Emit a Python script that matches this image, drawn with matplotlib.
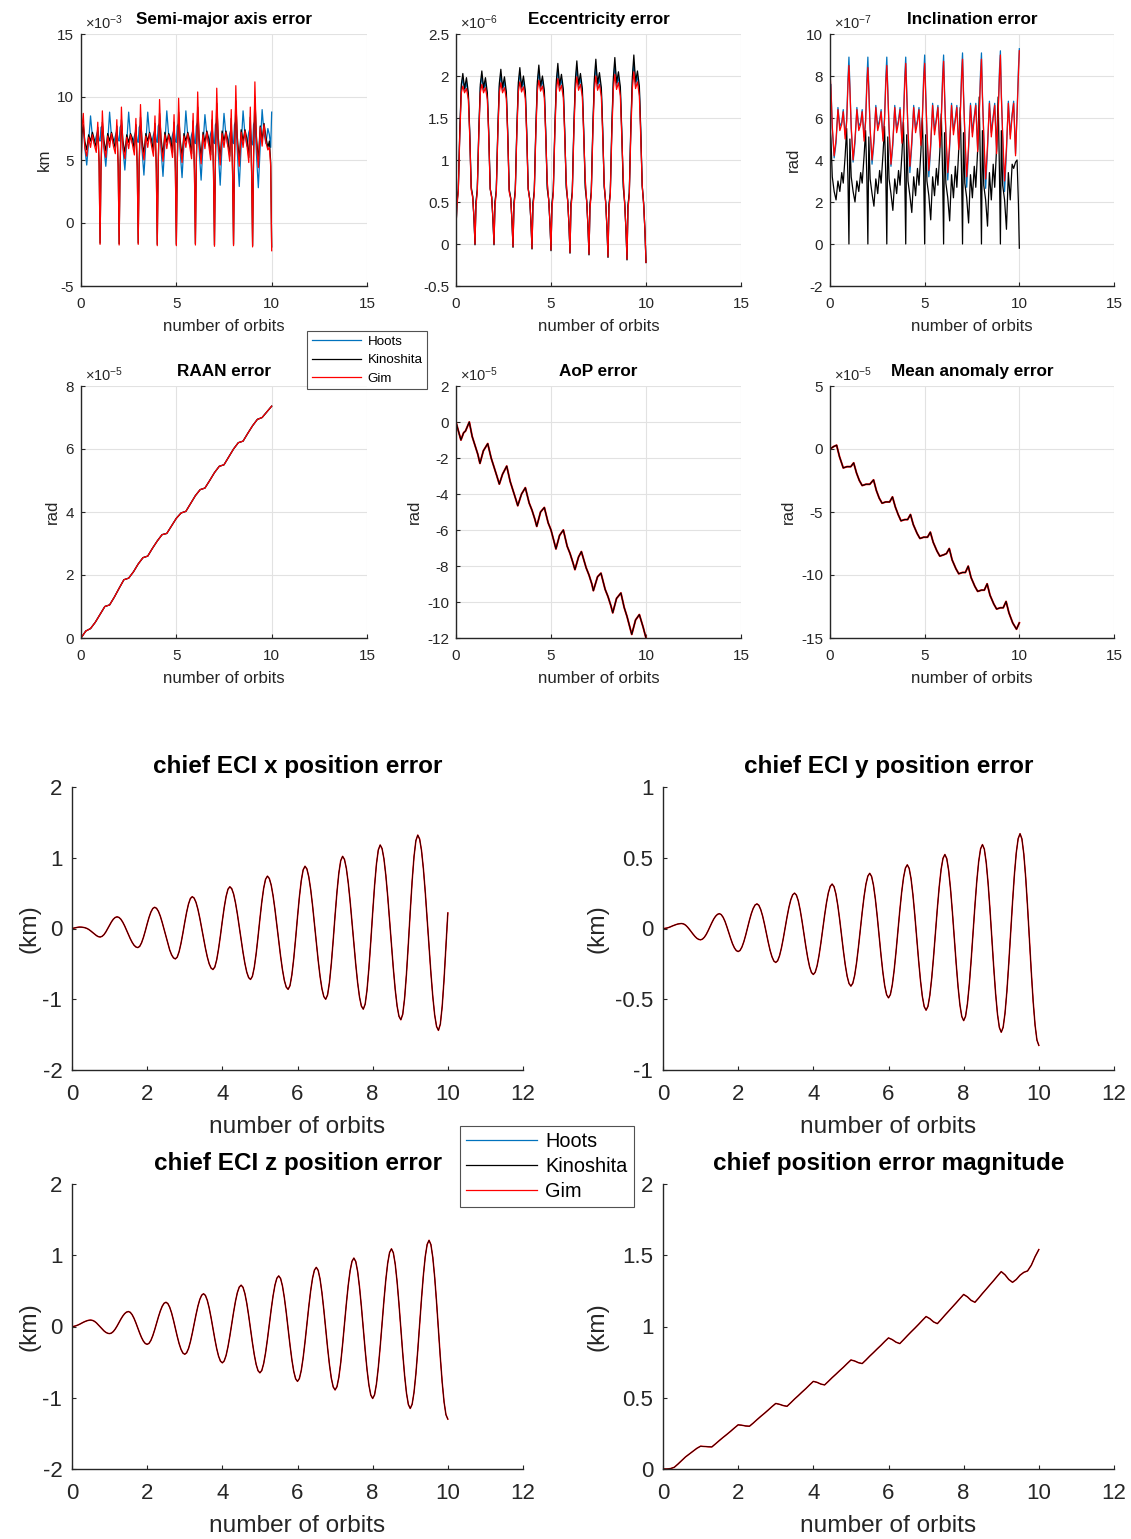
import numpy as np
import matplotlib
matplotlib.use('Agg')
import matplotlib.pyplot as plt
from matplotlib.ticker import FuncFormatter

plt.rcParams['font.family'] = ['Liberation Sans', 'DejaVu Sans']
plt.rcParams['mathtext.fontset'] = 'custom'
plt.rcParams['mathtext.rm'] = 'Liberation Sans'
plt.rcParams['mathtext.default'] = 'regular'

METHODS = ['Hoots', 'Kinoshita', 'Gim']
COLORS = {'Hoots': '#0072BD', 'Kinoshita': '#000000', 'Gim': '#ff0000'}

# ---------------- orbital element errors (top figure) ----------------
# sample offsets within each orbit (number of orbits)
SMA_OFFSETS = [0.0, 0.05, 0.12, 0.2, 0.3, 0.4, 0.5, 0.6, 0.7, 0.8, 0.88, 0.95]
ECC_OFFSETS = [0.0, 0.05, 0.12, 0.2, 0.28, 0.36, 0.45, 0.55, 0.65, 0.72, 0.8, 0.88, 0.95]
INC_OFFSETS = [0.0, 0.05, 0.12, 0.22, 0.32, 0.42, 0.52, 0.62, 0.7, 0.8, 0.88, 0.95]

# semi-major axis error, x1e-3 km
sma_hoots = [
    6.0, 7.6, 7.6, 6.0, 4.6, 6.4, 8.5, 6.8, 6.3, 6.9, 7.3, 6.6,
    6.5, 7.6, 7.7, 6.0, 4.5, 6.4, 8.8, 6.8, 6.3, 6.9, 7.3, 6.6,
    6.5, 7.6, 7.8, 5.9, 4.2, 6.4, 8.8, 6.8, 6.3, 6.9, 7.3, 6.5,
    6.4, 7.6, 7.8, 5.8, 3.8, 6.3, 8.8, 6.9, 6.3, 7.0, 7.4, 6.5,
    6.4, 7.7, 7.9, 5.8, 3.7, 6.3, 8.9, 6.9, 6.2, 7.0, 7.4, 6.5,
    6.4, 7.7, 7.9, 5.7, 3.6, 6.3, 8.9, 6.9, 6.2, 7.0, 7.4, 6.4,
    6.3, 7.7, 8.0, 5.7, 3.4, 6.2, 8.6, 7.0, 6.2, 7.1, 7.5, 6.4,
    6.3, 7.8, 8.0, 5.6, 3.0, 6.2, 8.7, 7.0, 6.1, 7.1, 7.5, 6.4,
    6.3, 7.8, 8.1, 5.6, 2.9, 6.1, 8.9, 7.0, 6.1, 7.2, 7.6, 6.3,
    6.2, 7.8, 8.1, 5.5, 2.8, 6.1, 9.0, 7.1, 6.3, 7.5, 7.0, 6.0,
    8.8]
sma_kinoshita = [
    4.5, 7.0, 7.8, 6.5, 5.8, 7.0, 6.5, 7.2, 6.6, 6.0, 7.6, 4.8,
    -1.6, 4.5, 8.0, 6.6, 5.7, 7.1, 6.5, 7.2, 6.6, 5.9, 7.7, 4.6,
    -1.65, 4.6, 8.2, 6.5, 5.6, 7.0, 6.4, 7.1, 6.7, 5.8, 7.8, 4.5,
    -1.6, 4.7, 8.4, 6.6, 5.5, 7.1, 6.5, 7.2, 6.6, 5.7, 7.9, 4.4,
    -1.7, 4.8, 8.7, 6.7, 5.4, 7.2, 6.4, 7.1, 6.7, 5.6, 8.0, 4.3,
    -1.7, 4.9, 8.8, 6.6, 5.3, 7.1, 6.5, 7.2, 6.6, 5.5, 8.1, 4.2,
    -1.65, 5.0, 9.2, 6.7, 5.2, 7.2, 6.4, 7.3, 6.7, 5.4, 8.2, 4.1,
    -1.75, 5.1, 9.5, 6.8, 5.1, 7.3, 6.5, 7.3, 6.6, 5.3, 8.3, 4.1,
    -1.7, 5.2, 9.7, 6.8, 5.0, 7.4, 6.5, 7.4, 6.7, 5.2, 8.4, 4.0,
    -1.8, 5.3, 10.0, 6.9, 4.9, 7.7, 6.6, 7.9, 6.8, 6.0, 6.5, 4.8,
    -1.9]
sma_gim = [
    3.8, 7.5, 8.7, 6.0, 5.3, 6.8, 6.0, 7.0, 6.2, 5.6, 8.0, 4.5,
    -1.7, 4.2, 8.9, 6.1, 5.2, 6.9, 6.0, 7.1, 6.1, 5.5, 8.2, 4.3,
    -1.75, 4.3, 9.2, 6.0, 5.1, 6.8, 5.9, 7.0, 6.2, 5.4, 8.3, 4.2,
    -1.7, 4.4, 9.4, 6.1, 5.0, 6.9, 6.0, 7.1, 6.1, 5.3, 8.5, 4.0,
    -1.8, 4.5, 9.8, 6.2, 4.9, 7.0, 5.9, 7.0, 6.2, 5.2, 8.6, 4.0,
    -1.8, 4.6, 9.9, 6.1, 4.8, 6.9, 6.0, 7.1, 6.1, 5.1, 8.7, 3.9,
    -1.75, 4.7, 10.4, 6.2, 4.7, 7.0, 5.9, 7.2, 6.2, 5.0, 8.9, 3.8,
    -1.85, 4.8, 10.7, 6.3, 4.6, 7.1, 6.0, 7.2, 6.1, 4.9, 9.0, 3.8,
    -1.8, 4.9, 10.9, 6.3, 4.5, 7.2, 6.0, 7.3, 6.2, 4.8, 9.2, 3.7,
    -1.9, 5.0, 11.2, 6.4, 4.4, 7.6, 6.1, 7.8, 6.4, 5.8, 6.0, 4.5,
    -2.2]

# eccentricity error, x1e-6
ecc_hoots = [
    0.19, 0.48, 0.64, 1.33, 1.86, 1.98, 1.82, 1.92, 1.76, 1.33, 0.66, 0.56, 0.29,
    -0.0, 0.48, 0.64, 1.33, 1.86, 2.00, 1.83, 1.92, 1.76, 1.33, 0.66, 0.55, 0.27,
    -0.0, 0.48, 0.63, 1.33, 1.87, 2.02, 1.83, 1.93, 1.77, 1.33, 0.64, 0.54, 0.26,
    -0.03, 0.47, 0.63, 1.34, 1.87, 2.04, 1.84, 1.94, 1.78, 1.33, 0.66, 0.53, 0.24,
    -0.05, 0.47, 0.62, 1.34, 1.88, 2.06, 1.85, 1.95, 1.79, 1.34, 0.72, 0.52, 0.23,
    -0.07, 0.46, 0.62, 1.34, 1.89, 2.08, 1.86, 1.96, 1.79, 1.34, 0.72, 0.51, 0.21,
    -0.1, 0.46, 0.61, 1.35, 1.9, 2.10, 1.87, 1.97, 1.8, 1.34, 0.74, 0.5, 0.19,
    -0.12, 0.45, 0.61, 1.35, 1.9, 2.12, 1.87, 1.98, 1.81, 1.35, 0.7, 0.49, 0.17,
    -0.15, 0.45, 0.6, 1.36, 1.91, 2.14, 1.88, 1.99, 1.82, 1.35, 0.76, 0.48, 0.15,
    -0.18, 0.44, 0.6, 1.36, 1.92, 2.16, 1.89, 2.0, 1.83, 1.35, 0.7, 0.46, 0.13,
    -0.22]
ecc_kinoshita = [
    0.18, 0.5, 0.65, 1.35, 1.9, 2.03, 1.85, 1.98, 1.8, 1.35, 0.68, 0.57, 0.28,
    -0.01, 0.5, 0.65, 1.35, 1.9, 2.06, 1.86, 1.98, 1.8, 1.35, 0.66, 0.56, 0.26,
    -0.01, 0.5, 0.64, 1.36, 1.91, 2.08, 1.86, 1.99, 1.81, 1.35, 0.65, 0.55, 0.25,
    -0.04, 0.49, 0.64, 1.36, 1.92, 2.10, 1.87, 2.0, 1.82, 1.36, 0.66, 0.54, 0.23,
    -0.06, 0.49, 0.63, 1.37, 1.93, 2.13, 1.88, 2.0, 1.83, 1.36, 0.66, 0.53, 0.22,
    -0.08, 0.48, 0.63, 1.37, 1.94, 2.15, 1.89, 2.02, 1.84, 1.37, 0.67, 0.52, 0.2,
    -0.11, 0.48, 0.62, 1.38, 1.95, 2.18, 1.9, 2.03, 1.85, 1.37, 0.67, 0.51, 0.18,
    -0.13, 0.47, 0.62, 1.38, 1.96, 2.2, 1.91, 2.04, 1.86, 1.38, 0.68, 0.5, 0.16,
    -0.16, 0.47, 0.61, 1.39, 1.97, 2.22, 1.92, 2.05, 1.87, 1.38, 0.68, 0.49, 0.14,
    -0.19, 0.46, 0.61, 1.39, 1.98, 2.25, 1.93, 2.06, 1.88, 1.39, 0.69, 0.48, 0.12,
    -0.22]
ecc_gim = [
    0.2, 0.45, 0.62, 1.3, 1.8, 1.88, 1.8, 1.85, 1.72, 1.3, 0.65, 0.55, 0.3,
    0.0, 0.45, 0.62, 1.3, 1.8, 1.90, 1.8, 1.86, 1.72, 1.3, 0.65, 0.55, 0.28,
    0.0, 0.45, 0.61, 1.3, 1.8, 1.92, 1.8, 1.86, 1.73, 1.3, 0.62, 0.54, 0.26,
    -0.03, 0.44, 0.61, 1.3, 1.81, 1.93, 1.81, 1.87, 1.73, 1.3, 0.65, 0.53, 0.25,
    -0.05, 0.44, 0.60, 1.3, 1.82, 1.95, 1.82, 1.88, 1.74, 1.3, 0.75, 0.52, 0.24,
    -0.07, 0.43, 0.60, 1.3, 1.82, 1.97, 1.82, 1.89, 1.74, 1.3, 0.75, 0.5, 0.22,
    -0.1, 0.43, 0.59, 1.3, 1.83, 1.99, 1.83, 1.9, 1.75, 1.3, 0.78, 0.5, 0.2,
    -0.12, 0.42, 0.59, 1.3, 1.83, 2.0, 1.83, 1.9, 1.75, 1.3, 0.72, 0.48, 0.18,
    -0.15, 0.42, 0.58, 1.3, 1.84, 2.02, 1.84, 1.92, 1.76, 1.3, 0.8, 0.47, 0.16,
    -0.18, 0.41, 0.58, 1.3, 1.85, 2.05, 1.85, 1.93, 1.76, 1.3, 0.7, 0.45, 0.14,
    -0.22]

# inclination error, x1e-7 rad
inc_hoots = [
    7.6, 7.6, 5.5, 4.1, 4.8, 6.5, 5.6, 5.8, 6.4, 5.2, 5.9, 7.9,
    8.9, 7.6, 5.5, 3.9, 4.8, 6.5, 5.6, 5.8, 6.4, 5.1, 5.9, 7.9,
    8.9, 7.5, 5.4, 3.8, 4.8, 6.6, 5.6, 5.9, 6.4, 5.0, 6.0, 8.0,
    8.9, 7.5, 5.4, 3.7, 4.7, 6.6, 5.5, 5.9, 6.5, 4.9, 6.0, 8.0,
    8.9, 7.4, 5.3, 3.4, 4.7, 6.6, 5.5, 5.9, 6.5, 4.8, 6.1, 8.1,
    9.0, 7.4, 5.3, 3.2, 4.6, 6.7, 5.4, 6.0, 6.6, 4.7, 6.1, 8.1,
    9.0, 7.3, 5.2, 3.05, 4.6, 6.7, 5.4, 6.0, 6.6, 4.6, 6.2, 8.2,
    9.1, 7.3, 5.2, 2.7, 4.5, 6.7, 5.3, 6.1, 6.7, 4.5, 6.2, 8.2,
    9.1, 7.2, 5.1, 2.65, 4.5, 6.8, 5.3, 6.1, 6.7, 4.4, 6.3, 8.3,
    9.2, 7.2, 5.1, 2.5, 4.4, 6.8, 5.2, 6.2, 6.8, 4.3, 6.3, 8.3,
    9.3]
inc_kinoshita = [
    5.6, 5.0, 3.2, 2.5, 2.1, 3.0, 2.5, 3.4, 2.9, 4.2, 5.5, 3.0,
    0.0, 5.0, 3.2, 2.5, 2.0, 3.0, 2.5, 3.4, 2.9, 4.2, 5.4, 3.0,
    0.0, 5.1, 3.1, 2.4, 1.8, 3.1, 2.4, 3.5, 2.9, 4.3, 5.6, 3.1,
    0.0, 5.1, 3.1, 2.4, 1.6, 3.1, 2.4, 3.5, 2.8, 4.3, 5.8, 3.1,
    0.0, 5.2, 3.0, 2.3, 1.5, 3.2, 2.3, 3.6, 2.8, 4.4, 6.0, 3.2,
    0.0, 5.2, 3.0, 2.3, 1.15, 3.2, 2.3, 3.6, 2.8, 4.4, 6.2, 3.2,
    0.0, 5.3, 2.9, 2.2, 1.1, 3.3, 2.2, 3.7, 2.7, 4.5, 6.5, 3.3,
    0.0, 5.3, 2.9, 2.2, 1.0, 3.3, 2.2, 3.7, 2.7, 4.5, 7.0, 3.3,
    0.0, 5.4, 2.8, 2.1, 0.85, 3.4, 2.1, 3.8, 2.7, 4.6, 7.0, 3.4,
    0.0, 5.4, 2.8, 2.1, 0.7, 3.4, 2.1, 3.8, 3.6, 3.9, 4.0, 2.0,
    -0.2]
inc_gim = [
    8.2, 7.4, 5.6, 4.2, 5.0, 6.4, 5.4, 5.7, 6.3, 5.0, 5.8, 7.6,
    8.5, 7.4, 5.6, 4.0, 5.0, 6.4, 5.4, 5.7, 6.3, 4.9, 5.8, 7.6,
    8.4, 7.3, 5.5, 4.0, 5.0, 6.5, 5.4, 5.8, 6.3, 4.9, 5.9, 7.7,
    8.5, 7.3, 5.5, 3.8, 4.9, 6.5, 5.3, 5.8, 6.4, 4.8, 5.9, 7.7,
    8.6, 7.2, 5.4, 3.7, 4.9, 6.5, 5.3, 5.8, 6.4, 4.7, 6.0, 7.8,
    8.6, 7.2, 5.4, 3.5, 4.8, 6.6, 5.2, 5.9, 6.5, 4.6, 6.0, 7.8,
    8.7, 7.1, 5.3, 3.4, 4.8, 6.6, 5.2, 5.9, 6.5, 4.5, 6.1, 7.9,
    8.8, 7.1, 5.3, 3.2, 4.7, 6.6, 5.1, 6.0, 6.6, 4.4, 6.1, 7.9,
    8.8, 7.0, 5.2, 3.1, 4.7, 6.7, 5.1, 6.0, 6.6, 4.3, 6.2, 8.0,
    9.0, 7.0, 5.2, 3.0, 4.6, 6.7, 5.0, 6.1, 6.7, 4.2, 6.2, 8.0,
    9.2]

# RAAN error, x1e-5 rad, every quarter orbit (all three methods coincide)
raan_err = [0.0, 0.22, 0.3, 0.5, 0.75, 1.0, 1.05, 1.3, 1.58, 1.85, 1.9,
            2.1, 2.35, 2.55, 2.6, 2.85, 3.08, 3.28, 3.32, 3.56, 3.8,
            3.97, 4.02, 4.27, 4.52, 4.71, 4.76, 5.0, 5.25, 5.45, 5.5,
            5.75, 6.0, 6.2, 6.25, 6.5, 6.74, 6.94, 7.0, 7.18, 7.36]

# argument of perigee error, x1e-5 rad
aop_t = [0.0, 0.1, 0.26, 0.4, 0.5, 0.7, 0.85,
         1.0, 1.15, 1.26, 1.44, 1.67, 1.85,
         2.0, 2.15, 2.28, 2.45, 2.67, 2.85,
         3.0, 3.15, 3.25, 3.45, 3.65, 3.85,
         4.0, 4.15, 4.25, 4.45, 4.65, 4.85,
         5.0, 5.15, 5.26, 5.45, 5.65, 5.85,
         6.0, 6.15, 6.26, 6.45, 6.6, 6.85,
         7.0, 7.15, 7.23, 7.45, 7.63, 7.85,
         8.0, 8.15, 8.25, 8.45, 8.68, 8.85,
         9.0, 9.15, 9.25, 9.45, 9.65, 9.85, 10.0]
aop_err = [0.0, -0.4, -1.0, -0.6, -0.5, 0.0, -0.8,
           -1.3, -1.8, -2.3, -1.6, -1.2, -2.0,
           -2.5, -3.0, -3.45, -2.9, -2.45, -3.3,
           -3.8, -4.3, -4.65, -4.0, -3.65, -4.5,
           -4.9, -5.4, -5.8, -5.0, -4.75, -5.6,
           -6.0, -6.6, -7.05, -6.3, -6.0, -6.9,
           -7.3, -7.8, -8.2, -7.5, -7.2, -8.1,
           -8.5, -9.0, -9.37, -8.6, -8.4, -9.3,
           -9.7, -10.2, -10.6, -9.8, -9.5, -10.3,
           -10.8, -11.4, -11.8, -11.0, -10.7, -11.4, -12.0]

# mean anomaly error, x1e-5 rad
ma_t = [0.0, 0.2, 0.35, 0.5, 0.7, 0.9,
        1.1, 1.25, 1.4, 1.55, 1.7, 1.9,
        2.1, 2.3, 2.45, 2.6, 2.75, 2.95,
        3.15, 3.3, 3.45, 3.6, 3.75, 3.95,
        4.1, 4.25, 4.4, 4.6, 4.75, 4.95,
        5.15, 5.3, 5.45, 5.65, 5.8, 6.0,
        6.15, 6.3, 6.45, 6.65, 6.8, 7.0,
        7.15, 7.3, 7.45, 7.65, 7.8, 8.0,
        8.15, 8.3, 8.45, 8.65, 8.8, 9.0,
        9.15, 9.3, 9.45, 9.65, 9.85, 10.0]
ma_err = [0.0, 0.2, 0.3, -0.6, -1.5, -1.4,
          -1.4, -1.1, -1.9, -2.5, -2.9, -2.8,
          -2.8, -2.45, -3.3, -3.9, -4.3, -4.2,
          -4.2, -3.8, -4.6, -5.2, -5.7, -5.6,
          -5.6, -5.2, -6.0, -6.7, -7.1, -7.0,
          -7.0, -6.6, -7.4, -8.1, -8.5, -8.4,
          -8.3, -7.9, -8.8, -9.5, -9.9, -9.8,
          -9.8, -9.3, -10.2, -10.9, -11.3, -11.2,
          -11.2, -10.7, -11.6, -12.3, -12.7, -12.6,
          -12.6, -12.1, -13.0, -13.8, -14.3, -13.8]

# ---------------- chief ECI position errors (bottom figure), km ----------------
# x, y, z: every 0.05 orbit (one orbit per line)
pos_x = [
    0.0, 0.006, 0.012, 0.017, 0.02, 0.019, 0.016, 0.01, 0.0, -0.015,
    -0.035, -0.057, -0.08, -0.1, -0.115, -0.12, -0.111, -0.087, -0.049, -0.002,
    0.047, 0.094, 0.132, 0.156, 0.165, 0.156, 0.131, 0.090, 0.038, -0.022,
    -0.083, -0.143, -0.195, -0.236, -0.261, -0.27, -0.253, -0.203, -0.127, -0.035,
    0.065, 0.158, 0.233, 0.283, 0.30, 0.285, 0.242, 0.174, 0.086, -0.013,
    -0.117, -0.216, -0.304, -0.372, -0.415, -0.43, -0.404, -0.327, -0.21, -0.067,
    0.087, 0.23, 0.347, 0.424, 0.45, 0.429, 0.369, 0.272, 0.148, 0.008,
    -0.138, -0.278, -0.402, -0.499, -0.559, -0.58, -0.545, -0.443, -0.287, -0.097,
    0.107, 0.298, 0.453, 0.555, 0.59, 0.563, 0.487, 0.363, 0.206, 0.028,
    -0.158, -0.336, -0.493, -0.617, -0.694, -0.72, -0.676, -0.549, -0.355, -0.117,
    0.137, 0.375, 0.569, 0.696, 0.74, 0.707, 0.614, 0.463, 0.271, 0.054,
    -0.174, -0.391, -0.583, -0.734, -0.828, -0.86, -0.808, -0.656, -0.425, -0.141,
    0.161, 0.445, 0.676, 0.828, 0.88, 0.842, 0.731, 0.555, 0.329, 0.073,
    -0.193, -0.449, -0.675, -0.851, -0.962, -1.0, -0.939, -0.764, -0.495, -0.166,
    0.186, 0.515, 0.784, 0.959, 1.02, 0.976, 0.849, 0.646, 0.387, 0.093,
    -0.213, -0.507, -0.766, -0.969, -1.097, -1.14, -1.07, -0.869, -0.56, -0.182,
    0.222, 0.60, 0.909, 1.11, 1.18, 1.13, 0.985, 0.753, 0.456, 0.12,
    -0.23, -0.566, -0.863, -1.095, -1.241, -1.29, -1.212, -0.985, -0.637, -0.212,
    0.242, 0.668, 1.015, 1.242, 1.32, 1.264, 1.102, 0.843, 0.511, 0.136,
    -0.256, -0.631, -0.963, -1.222, -1.385, -1.44, -1.353, -1.101, -0.715, -0.242,
    0.22]
pos_y = [
    0.0, 0.001, 0.003, 0.007, 0.012, 0.018, 0.023, 0.028, 0.032, 0.034,
    0.035, 0.032, 0.024, 0.011, -0.005, -0.023, -0.040, -0.056, -0.069, -0.077,
    -0.08, -0.075, -0.062, -0.042, -0.016, 0.013, 0.041, 0.067, 0.087, 0.100,
    0.105, 0.098, 0.079, 0.050, 0.012, -0.029, -0.070, -0.108, -0.137, -0.156,
    -0.163, -0.155, -0.131, -0.094, -0.047, 0.006, 0.058, 0.105, 0.142, 0.166,
    0.174, 0.164, 0.134, 0.089, 0.031, -0.033, -0.097, -0.155, -0.200, -0.230,
    -0.24, -0.228, -0.193, -0.139, -0.071, 0.005, 0.081, 0.149, 0.203, 0.238,
    0.25, 0.236, 0.195, 0.131, 0.051, -0.038, -0.126, -0.206, -0.270, -0.311,
    -0.325, -0.309, -0.264, -0.193, -0.104, -0.006, 0.093, 0.182, 0.253, 0.298,
    0.314, 0.296, 0.245, 0.165, 0.065, -0.047, -0.158, -0.258, -0.338, -0.389,
    -0.407, -0.387, -0.331, -0.243, -0.132, -0.009, 0.115, 0.226, 0.314, 0.370,
    0.39, 0.368, 0.306, 0.209, 0.086, -0.05, -0.186, -0.309, -0.406, -0.468,
    -0.49, -0.467, -0.400, -0.296, -0.165, -0.02, 0.125, 0.256, 0.360, 0.427,
    0.45, 0.425, 0.352, 0.238, 0.095, -0.064, -0.222, -0.365, -0.479, -0.552,
    -0.577, -0.550, -0.472, -0.350, -0.197, -0.027, 0.143, 0.296, 0.418, 0.496,
    0.523, 0.494, 0.411, 0.281, 0.117, -0.064, -0.245, -0.409, -0.539, -0.622,
    -0.651, -0.621, -0.532, -0.395, -0.221, -0.029, 0.163, 0.337, 0.474, 0.563,
    0.593, 0.561, 0.466, 0.320, 0.135, -0.07, -0.275, -0.460, -0.606, -0.700,
    -0.733, -0.699, -0.599, -0.444, -0.248, -0.032, 0.185, 0.381, 0.536, 0.635,
    0.67, 0.633, 0.527, 0.362, 0.153, -0.078, -0.309, -0.518, -0.683, -0.789,
    -0.826]
pos_z = [
    0.0, 0.002, 0.009, 0.019, 0.031, 0.045, 0.059, 0.071, 0.081, 0.088,
    0.09, 0.085, 0.072, 0.051, 0.024, -0.005, -0.034, -0.061, -0.082, -0.095,
    -0.1, -0.092, -0.070, -0.036, 0.007, 0.055, 0.103, 0.146, 0.180, 0.202,
    0.21, 0.199, 0.166, 0.115, 0.051, -0.02, -0.091, -0.155, -0.206, -0.239,
    -0.25, -0.236, -0.194, -0.128, -0.046, 0.045, 0.136, 0.218, 0.284, 0.326,
    0.34, 0.322, 0.270, 0.190, 0.088, -0.025, -0.138, -0.240, -0.320, -0.372,
    -0.39, -0.369, -0.309, -0.215, -0.096, 0.035, 0.166, 0.285, 0.379, 0.439,
    0.46, 0.436, 0.367, 0.260, 0.125, -0.025, -0.175, -0.310, -0.417, -0.486,
    -0.51, -0.483, -0.406, -0.285, -0.133, 0.035, 0.203, 0.355, 0.476, 0.553,
    0.58, 0.550, 0.463, 0.327, 0.155, -0.035, -0.225, -0.396, -0.533, -0.620,
    -0.65, -0.617, -0.520, -0.370, -0.180, 0.03, 0.240, 0.430, 0.580, 0.677,
    0.71, 0.674, 0.569, 0.405, 0.199, -0.03, -0.259, -0.465, -0.629, -0.734,
    -0.77, -0.731, -0.617, -0.440, -0.217, 0.03, 0.277, 0.500, 0.677, 0.791,
    0.83, 0.788, 0.666, 0.475, 0.236, -0.03, -0.296, -0.535, -0.726, -0.848,
    -0.89, -0.845, -0.713, -0.509, -0.251, 0.035, 0.321, 0.579, 0.783, 0.915,
    0.96, 0.912, 0.772, 0.554, 0.279, -0.025, -0.329, -0.604, -0.822, -0.962,
    -1.01, -0.959, -0.809, -0.577, -0.284, 0.04, 0.364, 0.657, 0.889, 1.039,
    1.09, 1.035, 0.876, 0.628, 0.316, -0.03, -0.376, -0.688, -0.936, -1.095,
    -1.15, -1.092, -0.925, -0.664, -0.335, 0.03, 0.395, 0.724, 0.985, 1.152,
    1.21, 1.149, 0.970, 0.693, 0.343, -0.045, -0.433, -0.783, -1.060, -1.238,
    -1.3]
# magnitude: every 0.1 orbit
pos_mag = [
    0.0, 0.0, 0.003, 0.012, 0.035, 0.06, 0.085, 0.105, 0.125, 0.145,
    0.16, 0.158, 0.156, 0.155, 0.177, 0.20, 0.222, 0.243, 0.265, 0.288,
    0.31, 0.307, 0.302, 0.30, 0.322, 0.346, 0.369, 0.391, 0.414, 0.438,
    0.46, 0.454, 0.445, 0.44, 0.465, 0.491, 0.515, 0.54, 0.564, 0.59,
    0.615, 0.608, 0.596, 0.59, 0.615, 0.641, 0.665, 0.69, 0.714, 0.74,
    0.765, 0.758, 0.746, 0.74, 0.765, 0.792, 0.817, 0.843, 0.868, 0.895,
    0.92, 0.908, 0.89, 0.88, 0.907, 0.935, 0.962, 0.988, 1.015, 1.043,
    1.07, 1.055, 1.032, 1.02, 1.049, 1.079, 1.108, 1.137, 1.166, 1.196,
    1.225, 1.208, 1.183, 1.17, 1.20, 1.232, 1.262, 1.293, 1.323, 1.355,
    1.385, 1.363, 1.33, 1.31, 1.33, 1.36, 1.38, 1.39, 1.43, 1.49,
    1.54]


def orbit_times(offsets):
    return [k + f for k in range(10) for f in offsets] + [10.0]


t_sma = orbit_times(SMA_OFFSETS)
t_ecc = orbit_times(ECC_OFFSETS)
t_inc = orbit_times(INC_OFFSETS)
t_raan = np.linspace(0, 10, len(raan_err))
t_pos = np.linspace(0, 10, len(pos_x))
t_mag = np.linspace(0, 10, len(pos_mag))

W, H = 1131, 1539
fig = plt.figure(figsize=(W / 100, H / 100), dpi=100)
fmt = FuncFormatter(lambda v, p: '%g' % (0 if abs(v) < 1e-9 else round(v, 6)))
AX_COLOR = '#262626'


def rect(x0, y0, x1, y1):
    return [x0 / W, 1 - y1 / H, (x1 - x0) / W, (y1 - y0) / H]


def style(ax, xlim, xticks, ylim, ystep, size, ylabel):
    ax.set_xlim(*xlim)
    ax.set_xticks(xticks)
    ax.set_ylim(*ylim)
    ax.set_yticks(np.arange(ylim[0], ylim[1] + ystep / 2, ystep))
    ax.xaxis.set_major_formatter(fmt)
    ax.yaxis.set_major_formatter(fmt)
    for side in ('top', 'right'):
        ax.spines[side].set_visible(False)
    for side in ('left', 'bottom'):
        ax.spines[side].set_color(AX_COLOR)
        ax.spines[side].set_linewidth(1.0)
    ax.tick_params(direction='in', length=3, labelsize=size, colors=AX_COLOR)
    ax.set_ylabel(ylabel, fontsize=size * 1.1, color=AX_COLOR)
    ax.set_xlabel('number of orbits', fontsize=size * 1.1, color=AX_COLOR)


def top_axes(col, row, title, ylabel, ylim, ystep, power):
    xs = [(81, 367), (456, 741), (830, 1114)][col]
    ys = [(34, 286), (386, 638)][row]
    ax = fig.add_axes(rect(xs[0], ys[0], xs[1], ys[1]))
    style(ax, (0, 15), [0, 5, 10, 15], ylim, ystep, 11, ylabel)
    ax.set_title(title, fontsize=12.3, fontweight='bold', pad=7)
    ax.tick_params(axis='x', pad=8)
    ax.tick_params(axis='y', pad=5)
    ax.xaxis.labelpad = 6
    ax.grid(True, color='#e2e2e2', lw=0.8)
    ax.set_axisbelow(True)
    ax.text(0.015, 1.008, r'$\times10^{%d}$' % power, transform=ax.transAxes,
            fontsize=10.5, ha='left', va='bottom', color=AX_COLOR)
    return ax


def bottom_axes(col, row, title, ylim, ystep):
    xs = [(72, 523), (663, 1114)][col]
    ys = [(787, 1070), (1184, 1469)][row]
    ax = fig.add_axes(rect(xs[0], ys[0], xs[1], ys[1]))
    style(ax, (0, 12), [0, 2, 4, 6, 8, 10, 12], ylim, ystep, 16, '(km)')
    ax.set_title(title, fontsize=17.5, fontweight='bold', pad=10)
    ax.tick_params(axis='x', pad=10)
    ax.tick_params(axis='y', pad=7)
    ax.xaxis.labelpad = 8
    # right edge of the rotated "(km)" label, in pixels
    label_edge = [40, 609][col]
    ax.yaxis.set_label_coords((label_edge - xs[0]) / (xs[1] - xs[0]), 0.5)
    return ax


# top: orbital elements
ax = top_axes(0, 0, 'Semi-major axis error', 'km', (-5, 15), 5, -3)
for name, vals in zip(METHODS, [sma_hoots, sma_kinoshita, sma_gim]):
    ax.plot(t_sma, vals, color=COLORS[name], lw=0.9, label=name)
handles, labels = ax.get_legend_handles_labels()

ax = top_axes(1, 0, 'Eccentricity error', '', (-0.5, 2.5), 0.5, -6)
for name, vals in zip(METHODS, [ecc_hoots, ecc_kinoshita, ecc_gim]):
    ax.plot(t_ecc, vals, color=COLORS[name], lw=0.9)

ax = top_axes(2, 0, 'Inclination error', 'rad', (-2, 10), 2, -7)
for name, vals in zip(METHODS, [inc_hoots, inc_kinoshita, inc_gim]):
    ax.plot(t_inc, vals, color=COLORS[name], lw=0.9)

ax = top_axes(0, 1, 'RAAN error', 'rad', (0, 8), 2, -5)
for name in METHODS:
    ax.plot(t_raan, raan_err, color=COLORS[name], lw=0.9)

ax = top_axes(1, 1, 'AoP error', 'rad', (-12, 2), 2, -5)
for name in ['Hoots', 'Gim', 'Kinoshita']:
    ax.plot(aop_t, aop_err, color=COLORS[name], lw=1.4 if name == 'Gim' else 0.8)

ax = top_axes(2, 1, 'Mean anomaly error', 'rad', (-15, 5), 5, -5)
for name in ['Hoots', 'Gim', 'Kinoshita']:
    ax.plot(ma_t, ma_err, color=COLORS[name], lw=1.4 if name == 'Gim' else 0.8)

leg = fig.legend(handles, labels, loc='upper left', bbox_to_anchor=(307 / W, 1 - 331 / H),
                 fontsize=9.6, frameon=True, fancybox=False, edgecolor=AX_COLOR,
                 handlelength=3.7, handletextpad=0.5, borderpad=0.35, labelspacing=0.45,
                 borderaxespad=0)
leg.get_frame().set_linewidth(0.8)

# bottom: chief ECI position errors
panels = [(0, 0, 'chief ECI x position error', (-2, 2), 1, t_pos, pos_x),
          (1, 0, 'chief ECI y position error', (-1, 1), 0.5, t_pos, pos_y),
          (0, 1, 'chief ECI z position error', (-2, 2), 1, t_pos, pos_z),
          (1, 1, 'chief position error magnitude', (0, 2), 0.5, t_mag, pos_mag)]
for col, row, title, ylim, ystep, tt, vals in panels:
    ax = bottom_axes(col, row, title, ylim, ystep)
    for name in ['Hoots', 'Gim', 'Kinoshita']:
        ax.plot(tt, vals, color=COLORS[name], lw=1.1 if name == 'Gim' else 0.55)

leg = fig.legend(handles, labels, loc='upper left', bbox_to_anchor=(460 / W, 1 - 1126 / H),
                 fontsize=14.3, frameon=True, fancybox=False, edgecolor=AX_COLOR,
                 handlelength=3.6, handletextpad=0.4, borderpad=0.3, labelspacing=0.3,
                 borderaxespad=0)
leg.get_frame().set_linewidth(0.8)

fig.savefig('out.png', dpi=100, facecolor='white')
